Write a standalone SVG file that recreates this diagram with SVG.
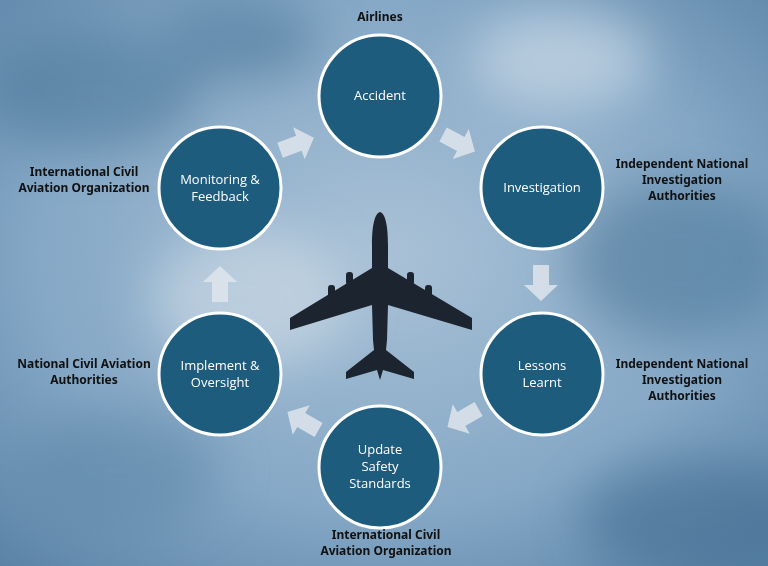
<svg xmlns="http://www.w3.org/2000/svg" width="768" height="566" viewBox="0 0 768 566">
<defs>
<radialGradient id="sky" cx="50%" cy="45%" r="75%">
<stop offset="0" stop-color="#a9c1d6"/><stop offset="0.6" stop-color="#85a8c6"/><stop offset="1" stop-color="#5a82a5"/>
</radialGradient>
<filter id="blur"><feGaussianBlur stdDeviation="25"/></filter>
<polygon id="arr" points="-18,-8 2,-8 2,-17 18,0 2,17 2,8 -18,8"/>
</defs>
<style>
.c{fill:#1e5c7e;stroke:#fff;stroke-width:3}
.t{font-family:"Open Sans","Liberation Sans",sans-serif;font-size:13px;fill:#fff;text-anchor:middle}
.l{font-family:"Noto Sans","Liberation Sans",sans-serif;font-size:12px;font-weight:bold;fill:#111;text-anchor:middle}
.a{fill:#dfe6ec;opacity:0.85}
</style>
<rect width="768" height="566" fill="url(#sky)"/>
<g filter="url(#blur)" opacity="0.55">
<ellipse cx="90" cy="90" rx="110" ry="60" fill="#4a7496"/>
<ellipse cx="240" cy="40" rx="80" ry="40" fill="#4a7496"/>
<ellipse cx="680" cy="260" rx="110" ry="80" fill="#4a7496"/>
<ellipse cx="700" cy="520" rx="120" ry="60" fill="#3f6a8e"/>
<ellipse cx="120" cy="470" rx="100" ry="60" fill="#5f87a8"/>
<ellipse cx="560" cy="60" rx="90" ry="50" fill="#dbe5ee"/>
<ellipse cx="250" cy="300" rx="100" ry="70" fill="#d6e1ea"/>
</g>
<g id="plane" fill="#1c2430">
<path d="M380,212 C386,214 388,228 388,245 L388,268 L472,318 L472,330 L388,305 L387,340 L386,350 L414,372 L414,379 L383,370 L380,380 L377,370 L346,379 L346,372 L374,350 L373,340 L372,305 L290,330 L290,318 L372,268 L372,245 C372,228 374,214 380,212 Z"/>
<rect x="328" y="285" width="7" height="13" rx="3"/><rect x="346" y="272" width="7" height="13" rx="3"/>
<rect x="425" y="285" width="7" height="13" rx="3"/><rect x="407" y="272" width="7" height="13" rx="3"/>
</g>
<g id="connectors" class="a">
<use href="#arr" transform="translate(297,144) rotate(-20)"/>
<use href="#arr" transform="translate(459,143) rotate(28)"/>
<use href="#arr" transform="translate(541,283) rotate(90)"/>
<use href="#arr" transform="translate(463,418) rotate(150)"/>
<use href="#arr" transform="translate(303,421) rotate(-150)"/>
<use href="#arr" transform="translate(220,284) rotate(-90)"/>
</g>
<g id="accident"><circle class="c" cx="380" cy="96" r="61"/><text class="t" x="380" y="100">Accident</text></g>
<g id="investigation"><circle class="c" cx="542" cy="188" r="61"/><text class="t" x="542" y="192">Investigation</text></g>
<g id="lessons"><circle class="c" cx="542" cy="374" r="61"/><text class="t" x="542" y="370">Lessons</text><text class="t" x="542" y="387">Learnt</text></g>
<g id="update"><circle class="c" cx="380" cy="467" r="61"/><text class="t" x="380" y="454">Update</text><text class="t" x="380" y="471">Safety</text><text class="t" x="380" y="488">Standards</text></g>
<g id="implement"><circle class="c" cx="220" cy="374" r="61"/><text class="t" x="220" y="370">Implement &amp;</text><text class="t" x="220" y="387">Oversight</text></g>
<g id="monitoring"><circle class="c" cx="220" cy="188" r="61"/><text class="t" x="220" y="184">Monitoring &amp;</text><text class="t" x="220" y="201">Feedback</text></g>
<g id="labels">
<text class="l" x="380" y="21">Airlines</text>
<text class="l" x="682" y="168">Independent National</text><text class="l" x="682" y="184">Investigation</text><text class="l" x="682" y="200">Authorities</text>
<text class="l" x="682" y="368">Independent National</text><text class="l" x="682" y="384">Investigation</text><text class="l" x="682" y="400">Authorities</text>
<text class="l" x="386" y="539">International Civil</text><text class="l" x="386" y="555">Aviation Organization</text>
<text class="l" x="84" y="368">National Civil Aviation</text><text class="l" x="84" y="384">Authorities</text>
<text class="l" x="84" y="176">International Civil</text><text class="l" x="84" y="192">Aviation Organization</text>
</g>
</svg>
